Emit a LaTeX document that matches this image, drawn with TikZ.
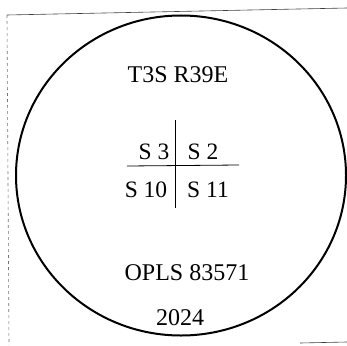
\documentclass[tikz,border=0pt]{standalone}
\usepackage{fontspec}
\setmainfont{Liberation Serif}
\usetikzlibrary{positioning,shapes.geometric}

\begin{document}
\begin{tikzpicture}[x=1pt,y=-1pt,sealtext/.style={anchor=base,inner sep=0pt,font=\fontsize{24}{27}\selectfont},cell/.style={anchor=base,inner sep=0pt,font=\fontsize{23.5}{26}\selectfont},frameline/.style={draw=black!75,line width=0.6pt}]
	\useasboundingbox (0,0) rectangle (347,345);
	% frame
	\coordinate (tl) at (7,15);
	\coordinate (tr) at (347,8);
	\coordinate (bl) at (9,345);
	\coordinate (br1) at (300,343);
	\coordinate (br2) at (347,342);
	\draw[frameline] (tl) -- (tr);
	\draw[frameline,dashed,draw=black!55] (tl) -- (bl);
	\draw[frameline] (br1) -- (br2);
	% seal
	\node[draw,line width=2pt,ellipse,minimum width=330pt,minimum height=320pt,inner sep=0pt] (seal) at (181,175.5) {};
	\node[sealtext] (twp) at (178,82) {T3S R39E};
	\node[cell] (s3) at (154,159) {S 3};
	\node[cell] (s2) at (203,159) {S 2};
	\node[cell] (s10) at (146,197) {S 10};
	\node[cell] (s11) at (208,197) {S 11};
	\node[sealtext] (opls) at (187,280) {OPLS 83571};
	\node[sealtext] (year) at (180,325) {2024};
	% cross
	\coordinate (vt) at (175,120);
	\coordinate (vb) at (175,208);
	\coordinate (hl) at (127,166);
	\coordinate (hr) at (239,165);
	\draw[line width=0.8pt] (vt) -- (vb);
	\draw[line width=0.8pt] (hl) -- (hr);
\end{tikzpicture}
\end{document}
